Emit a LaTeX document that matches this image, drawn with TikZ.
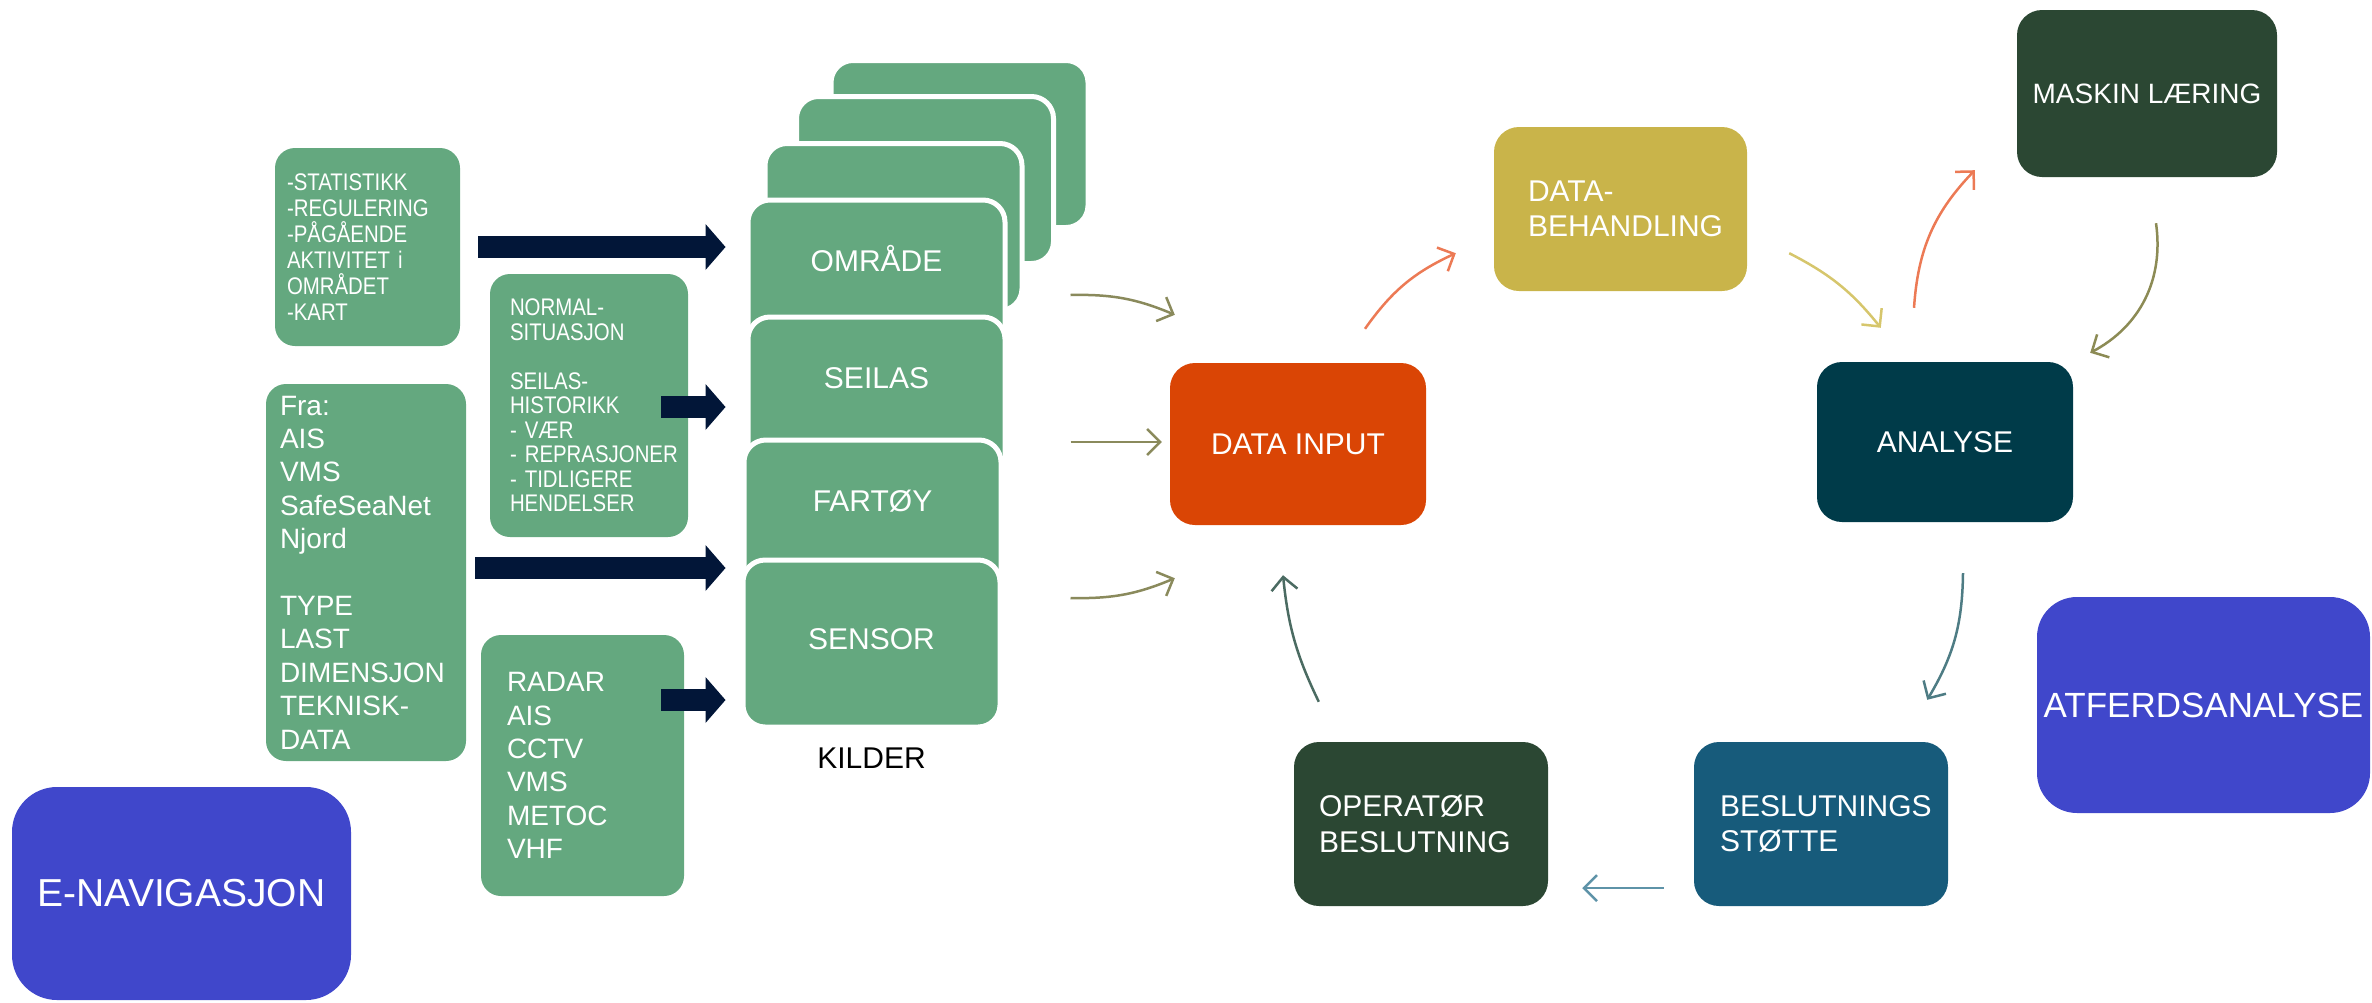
\documentclass[tikz,border=0pt]{standalone}
\usepackage{fontspec}
\setmainfont{Liberation Sans}
\newfontfamily\narrowfont[FakeStretch=0.85]{Liberation Sans}
\usepackage{xcolor}
\usetikzlibrary{
arrows.meta,
positioning,
shapes
}

\definecolor{kildegreen}{HTML}{64A87F}
\definecolor{pilnavy}{HTML}{021638}
\definecolor{navblue}{HTML}{4047CB}
\definecolor{inputred}{HTML}{DA4505}
\definecolor{behgold}{HTML}{C9B44A}
\definecolor{mlgreen}{HTML}{2B4733}
\definecolor{analyseteal}{HTML}{003B49}
\definecolor{stotteblue}{HTML}{175B7B}
\definecolor{kildepil}{HTML}{8A8A5C}
\definecolor{orangepil}{HTML}{EC7A55}
\definecolor{gulpil}{HTML}{D6C66C}
\definecolor{olivenpil}{HTML}{8C8B55}
\definecolor{tealpil}{HTML}{4E7C84}
\definecolor{blapil}{HTML}{5E93A8}
\definecolor{gronnpil}{HTML}{4B6B62}

\begin{document}
\begin{tikzpicture}[
    x=1pt, y=1pt,
    >={Straight Barb[length=13pt,width=26pt]},
    srcbox/.style={fill=kildegreen,
      rounded corners=20pt,
      text=white,
      align=left,
      inner ysep=0pt},
    stackbox/.style={fill=kildegreen,
      draw=white,
      line width=5pt,
      rounded corners=22pt,
      text=white,
      minimum width=257pt,
      minimum height=167pt,
      inner sep=0pt,
      text height=22pt,
      text depth=46pt,
      font=\fontsize{30}{36}\selectfont},
    cycbox/.style={rounded corners=25pt,
      text=white,
      inner sep=0pt,
      font=\fontsize{30}{35.5}\selectfont},
    bigarrow/.style={draw=pilnavy, line width=22pt,
      -{Triangle[length=20pt,width=46pt,line width=0pt]}},
    flow/.style={line width=2.5pt, ->}
  ]
  \useasboundingbox (0,0) rectangle (2372,-1002);

  % kilder, venstre side
  \node[srcbox, inner xsep=12pt, text width=161pt, minimum height=198pt,
    font=\narrowfont\fontsize{24}{26}\selectfont] (stat) at (367.5,-247) {%
    -STATISTIKK\\
    -REGULERING\\
    -PÅGÅENDE\\
    \mbox{AKTIVITET i}\\
    OMRÅDET\\
    -KART};
  \node[srcbox, inner xsep=20pt, text width=158pt, minimum height=263pt,
    font=\narrowfont\fontsize{24}{24.5}\selectfont] (normal) at (589,-405.5) {%
    NORMAL-\\
    SITUASJON\\[24.5pt]
    SEILAS-\\
    HISTORIKK\\
    \mbox{- VÆR}\\
    \mbox{- REPRASJONER}\\
    \mbox{- TIDLIGERE}\\
    HENDELSER};
  \node[srcbox, inner xsep=14pt, text width=172pt, minimum height=377pt,
    font=\fontsize{28}{33.4}\selectfont] (fra) at (366,-572.5) {%
    Fra:\\
    AIS\\
    VMS\\
    SafeSeaNet\\
    Njord\\[33.4pt]
    TYPE\\
    LAST\\
    DIMENSJON\\
    TEKNISK-\\
    DATA};
  \node[srcbox, inner xsep=26pt, text width=151pt, minimum height=261pt,
    font=\fontsize{28}{33.4}\selectfont] (radar) at (582.5,-765.5) {%
    RADAR\\
    AIS\\
    CCTV\\
    VMS\\
    METOC\\
    VHF};
  \node[cycbox, fill=navblue, rounded corners=45pt, minimum width=339pt,
    minimum height=213pt, font=\fontsize{39}{46}\selectfont] (enav) at (181.5,-893.5) {E-NAVIGASJON};

  % stabel med kilder
  \node[stackbox] (bak1) at (959.5,-144) {};
  \node[stackbox] (bak2) at (925,-180) {};
  \node[stackbox] (bak3) at (893.5,-227) {};
  \node[stackbox] (omr) at (876.5,-283.5) {OMRÅDE};
  \node[stackbox] (sei) at (876.5,-400.5) {SEILAS};
  \node[stackbox] (fart) at (872.5,-523.5) {FARTØY};
  \node[stackbox, text depth=10pt] (sens) at (871.5,-643.5) {SENSOR};
  \node[below=18pt of sens, inner sep=0pt, font=\fontsize{30}{36}\selectfont] (kilder) {KILDER};

  \draw[bigarrow] ([xshift=18pt]stat.east) -- ([xshift=-20pt,yshift=36.5pt]omr.west);
  \draw[bigarrow] ([xshift=-27pt,yshift=-1.5pt]normal.east) -- ([xshift=-20pt,yshift=-6.5pt]sei.west);
  \draw[bigarrow] ([xshift=9pt,yshift=4.5pt]fra.east) -- ([xshift=-16pt,yshift=-44.5pt]fart.west);
  \draw[bigarrow] ([xshift=-23pt,yshift=65.5pt]radar.east) -- ([xshift=-15pt,yshift=-56.5pt]sens.west);

  % syklusen
  \node[cycbox, fill=inputred, minimum width=256pt, minimum height=162pt] (input) at (1298,-444) {DATA INPUT};
  \node[cycbox, fill=behgold, minimum width=253pt, minimum height=164pt, align=left,
    inner xsep=34pt, text width=185pt] (behand) at (1620.5,-209) {DATA-\\BEHANDLING};
  \node[cycbox, fill=mlgreen, minimum width=260pt, minimum height=167pt,
    font=\fontsize{28}{34}\selectfont] (maskin) at (2147,-93.5) {MASKIN LÆRING};
  \node[cycbox, fill=analyseteal, minimum width=256pt, minimum height=160pt] (analyse) at (1945,-442) {ANALYSE};
  \node[cycbox, fill=stotteblue, minimum width=254pt, minimum height=164pt, align=left,
    inner xsep=26pt, text width=202pt] (stotte) at (1821,-824) {BESLUTNINGS\\STØTTE};
  \node[cycbox, fill=mlgreen, minimum width=254pt, minimum height=164pt, align=left,
    inner xsep=25pt, text width=204pt] (oper) at (1421,-824) {OPERATØR\\BESLUTNING};
  \node[cycbox, fill=navblue, rounded corners=40pt, minimum width=333pt, minimum height=216pt,
    font=\fontsize{35}{42}\selectfont] (atferd) at (2203.5,-705) {ATFERDSANALYSE};

  \draw[flow, kildepil] ([xshift=63pt,yshift=-11.5pt]omr.east) to[bend left=12] ([xshift=5pt,yshift=48pt]input.north west);
  \draw[flow, kildepil] ([xshift=63pt,yshift=-41.5pt]sei.east) -- ([xshift=-8pt,yshift=2pt]input.west);
  \draw[flow, kildepil] ([xshift=68pt,yshift=45.5pt]sens.east) to[bend right=12] ([xshift=5pt,yshift=-53pt]input.south west);
  \draw[flow, orangepil] ([xshift=67pt,yshift=34pt]input.north) to[bend left=15] ([xshift=-38pt,yshift=38pt]behand.south west);
  \draw[flow, gulpil] ([xshift=42pt,yshift=38pt]behand.south east) to[bend left=12] ([xshift=64pt,yshift=34pt]analyse.north west);
  \draw[flow, orangepil] ([xshift=-31pt,yshift=54pt]analyse.north) to[bend left=20] ([xshift=-42pt,yshift=7pt]maskin.south west);
  \draw[flow, olivenpil] ([xshift=9pt,yshift=-46pt]maskin.south) to[bend left=35] ([xshift=17pt,yshift=9pt]analyse.north east);
  \draw[flow, tealpil] ([xshift=18pt,yshift=-51pt]analyse.south) to[bend left=15] ([xshift=-21pt,yshift=42pt]stotte.north east);
  \draw[flow, blapil] ([xshift=-30pt,yshift=18pt]stotte.south west) -- ([xshift=34pt,yshift=18pt]oper.south east);
  \draw[flow, gronnpil] ([xshift=25pt,yshift=40pt]oper.north west) to[bend left=10] ([xshift=-15pt,yshift=-50pt]input.south);
\end{tikzpicture}
\end{document}
